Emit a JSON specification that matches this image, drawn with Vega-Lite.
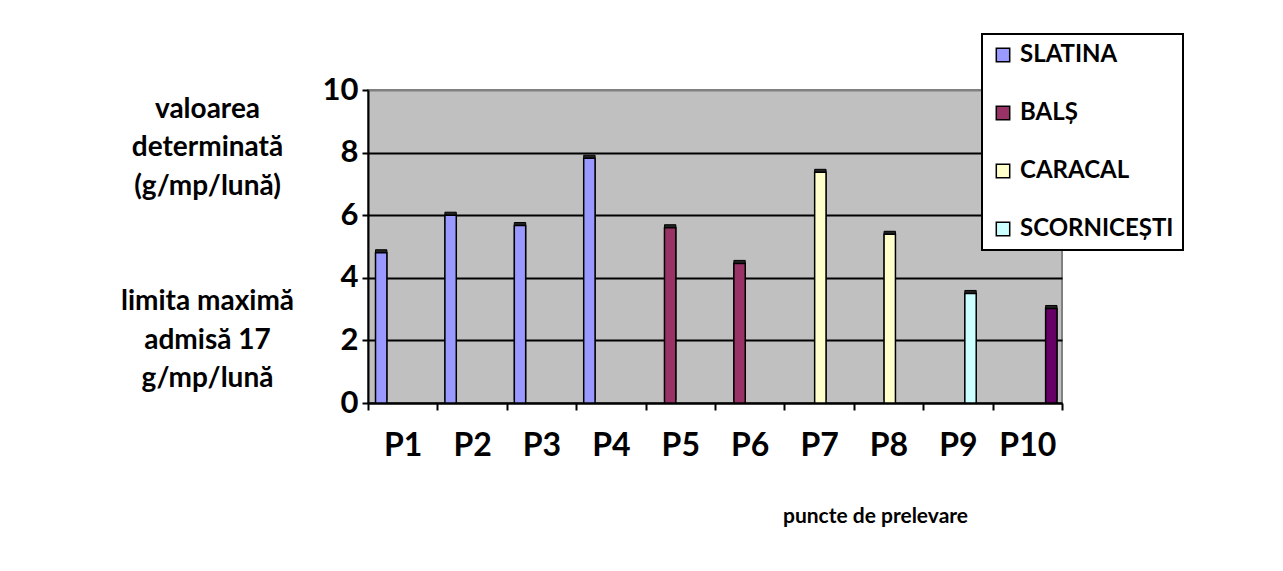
{
  "$schema": "https://vega.github.io/schema/vega-lite/v6.json",
  "width": 694,
  "height": 313,
  "autosize": {"type": "none"},
  "padding": {"left": 368, "top": 90, "right": 221, "bottom": 168},
  "background": "white",
  "config": {
    "font": "Lato",
    "view": {"fill": "#C0C0C0", "stroke": "#808080", "strokeWidth": 2},
    "legend": {"strokeColor": "black", "strokeWidth": 2, "fillColor": "white"}
  },
  "data": {
    "values": [
      {"punct": "P1", "serie": "SLATINA", "valoare": 4.8},
      {"punct": "P2", "serie": "SLATINA", "valoare": 6.0},
      {"punct": "P3", "serie": "SLATINA", "valoare": 5.67},
      {"punct": "P4", "serie": "SLATINA", "valoare": 7.82},
      {"punct": "P5", "serie": "BALȘ", "valoare": 5.6},
      {"punct": "P6", "serie": "BALȘ", "valoare": 4.46},
      {"punct": "P7", "serie": "CARACAL", "valoare": 7.37},
      {"punct": "P8", "serie": "CARACAL", "valoare": 5.39},
      {"punct": "P9", "serie": "SCORNICEȘTI", "valoare": 3.5},
      {"punct": "P10", "serie": "seria 5", "valoare": 3.02}
    ]
  },
  "encoding": {
    "x": {
      "field": "punct",
      "type": "nominal",
      "sort": null,
      "scale": {"paddingInner": 0, "paddingOuter": 0},
      "title": "puncte de prelevare",
      "axis": {
        "labelAngle": 0,
        "labelFontSize": 32,
        "labelFontWeight": "bold",
        "labelColor": "black",
        "labelPadding": 20,
        "domainColor": "black",
        "domainWidth": 2,
        "tickColor": "black",
        "tickWidth": 2,
        "tickSize": 7,
        "tickBand": "extent",
        "titleFontSize": 21,
        "titleFontWeight": "bold",
        "titleColor": "black",
        "titleAlign": "center",
        "titleBaseline": "alphabetic",
        "titleX": 507,
        "titleY": 119
      }
    },
    "xOffset": {
      "field": "serie",
      "type": "nominal",
      "scale": {
        "domain": ["SLATINA", "BALȘ", "CARACAL", "SCORNICEȘTI", "seria 5"],
        "paddingInner": 0,
        "paddingOuter": 0.55,
        "align": 0.6
      }
    },
    "y": {
      "field": "valoare",
      "type": "quantitative",
      "scale": {"domain": [0, 10], "nice": false},
      "title": ["valoarea", "determinată", "(g/mp/lună)", "\u2800", "\u2800", "limita maximă", "admisă 17", "g/mp/lună"],
      "axis": {
        "values": [0, 2, 4, 6, 8, 10],
        "labelFontSize": 31,
        "labelFontWeight": "bold",
        "labelColor": "black",
        "labelPadding": 4,
        "domainColor": "black",
        "domainWidth": 2,
        "tickColor": "black",
        "tickWidth": 2,
        "tickSize": 6,
        "gridColor": {"condition": {"test": "datum.value === 10", "value": "#808080"}, "value": "black"},
        "gridWidth": 2,
        "titleAngle": 0,
        "titleAlign": "center",
        "titleBaseline": "alphabetic",
        "titleX": -161,
        "titleY": 27,
        "titleFontSize": 28,
        "titleFontWeight": "bold",
        "titleColor": "black",
        "titleLineHeight": 38.5
      }
    }
  },
  "layer": [
    {
      "mark": {"type": "bar", "fill": "#222222", "stroke": "black", "strokeWidth": 1, "xOffset": 3, "yOffset": -3}
    },
    {
      "mark": {"type": "bar", "stroke": "black", "strokeWidth": 1.5},
      "encoding": {
        "color": {
          "field": "serie",
          "type": "nominal",
          "scale": {
            "domain": ["SLATINA", "BALȘ", "CARACAL", "SCORNICEȘTI", "seria 5"],
            "range": ["#9999FF", "#993366", "#FFFFCC", "#CCFFFF", "#660066"]
          },
          "legend": {
            "values": ["SLATINA", "BALȘ", "CARACAL", "SCORNICEȘTI"],
            "orient": "none",
            "legendX": 614,
            "legendY": -56,
            "title": null,
            "padding": 9,
            "labelFontSize": 24,
            "labelFontWeight": "bold",
            "labelColor": "black",
            "labelOffset": 5,
            "symbolType": "square",
            "symbolSize": 180,
            "symbolStrokeColor": "black",
            "symbolStrokeWidth": 1.5,
            "symbolOpacity": 1,
            "rowPadding": 34
          }
        }
      }
    }
  ]
}
